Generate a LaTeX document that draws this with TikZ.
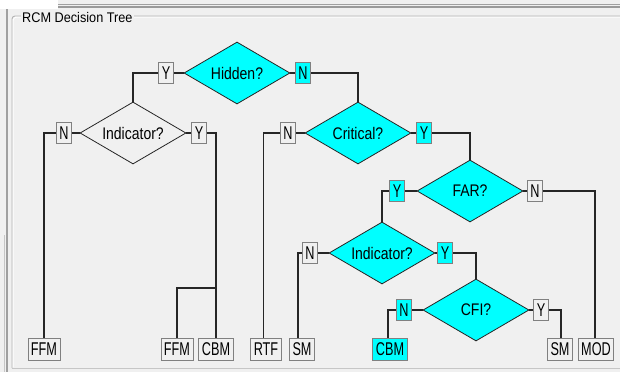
\documentclass[tikz,border=0pt]{standalone}
\usepackage{fontspec}
\usepackage{graphicx}
\setmainfont{Liberation Sans}
\usetikzlibrary{shapes.geometric}
\definecolor{bg}{HTML}{F0F0F0}
\definecolor{boxgray}{HTML}{808080}
\definecolor{framegray}{HTML}{A0A0A0}
\definecolor{aqua}{HTML}{00FFFF}
\newcommand{\talld}[1]{\scalebox{1}[1.2]{#1}}
\newcommand{\tallb}[1]{\scalebox{0.96}[1.4]{#1}}
\begin{document}
\begin{tikzpicture}[x=1pt,y=-1pt,
  dec/.style={diamond, draw=black!85, line width=0.8pt, fill=aqua, inner sep=0pt, aspect=1.7,
    minimum width=106pt, minimum height=62pt, font=\fontsize{14}{16}\selectfont},
  decw/.style={dec, fill=none},
  yn/.style={draw=boxgray, line width=0.9pt, fill=bg, inner xsep=3pt, inner ysep=0pt,
    minimum height=21pt, font=\fontsize{13.2}{15}\selectfont},
  ync/.style={yn, fill=aqua},
  leaf/.style={yn, minimum height=22pt},
  leafc/.style={leaf, fill=aqua},
  conn/.style={draw=black!85, line width=1.05pt}]
\useasboundingbox (0,0) rectangle (620,372);
\fill[bg] (0,0) rectangle (620,372);
% window frame
\fill[white] (0,0) rectangle (58,9);
\draw[framegray, line width=1pt] (58,4.5) -- (620,4.5);
\draw[boxgray!80, line width=1.5pt] (58,7) -- (620,7);
\draw[framegray, line width=2pt] (7,9) -- (7,372);
\draw[framegray!60, line width=1pt] (4.5,235) -- (4.5,372);
% group box
\draw[framegray!80, line width=0.9pt, rounded corners=3pt] (12,368) -- (12,16) -- (620,16);
\draw[white, line width=0.9pt, rounded corners=3pt] (13.2,367) -- (13.2,17.2) -- (620,17.2);
\draw[framegray!60, line width=0.9pt] (12,368) -- (620,368);
\node[anchor=west, fill=bg, inner xsep=1pt, inner ysep=1pt, font=\fontsize{12.7}{15}\selectfont] (title) at (21,18) {\scalebox{1}[1.1]{RCM Decision Tree}};
% decisions
\node[dec]  (hid)  at (237,73)  {\talld{Hidden?}};
\node[decw] (ind1) at (133,133) {\talld{Indicator?}};
\node[dec]  (crit) at (358,133) {\talld{Critical?}};
\node[dec]  (far)  at (470,191) {\talld{FAR?}};
\node[dec]  (ind2) at (382,253) {\talld{Indicator?}};
\node[dec]  (cfi)  at (476,310) {\talld{CFI?}};
% Y/N boxes
\node[yn]  (yH)  at (166,73)  {\tallb{Y}};
\node[ync] (nH)  at (303,73)  {\tallb{N}};
\node[yn]  (nI1) at (64,133)  {\tallb{N}};
\node[yn]  (yI1) at (199,133) {\tallb{Y}};
\node[yn]  (nC)  at (288,133) {\tallb{N}};
\node[ync] (yC)  at (424,133) {\tallb{Y}};
\node[ync] (yF)  at (397,191) {\tallb{Y}};
\node[yn]  (nF)  at (535,191) {\tallb{N}};
\node[yn]  (nI2) at (310,253) {\tallb{N}};
\node[ync] (yI2) at (445,253) {\tallb{Y}};
\node[ync] (nCF) at (404,310) {\tallb{N}};
\node[yn]  (yCF) at (541,310) {\tallb{Y}};
% leaves
\node[leaf]  (ffm1) at (44,349)  {\tallb{FFM}};
\node[leaf]  (ffm2) at (177,349) {\tallb{FFM}};
\node[leaf]  (cbm1) at (216,349) {\tallb{CBM}};
\node[leaf]  (rtf)  at (266,349) {\tallb{RTF}};
\node[leaf]  (sm1)  at (302,349) {\tallb{SM}};
\node[leafc] (cbm2) at (390,349) {\tallb{CBM}};
\node[leaf]  (sm2)  at (560,349) {\tallb{SM}};
\node[leaf]  (mod)  at (596,349) {\tallb{MOD}};
\coordinate (j1) at (216,288);
% connectors
\begin{scope}[conn]
\draw (hid.west) -- (yH.east);
\draw (hid.east) -- (nH.west);
\draw (yH.west) -| (ind1.north);
\draw (nH.east) -| (crit.north);
\draw (ind1.west) -- (nI1.east);
\draw (ind1.east) -- (yI1.west);
\draw (nI1.west) -| (ffm1.north);
\draw (yI1.east) -| (cbm1.north);
\draw (j1) -| (ffm2.north);
\draw (crit.west) -- (nC.east);
\draw (crit.east) -- (yC.west);
\draw (nC.west) -| ([xshift=-2.5pt]rtf.north);
\draw (yC.east) -| (far.north);
\draw (far.west) -- (yF.east);
\draw (far.east) -- (nF.west);
\draw (yF.west) -| (ind2.north);
\draw (nF.east) -| ([xshift=-1pt]mod.north);
\draw (ind2.west) -- (nI2.east);
\draw (ind2.east) -- (yI2.west);
\draw (nI2.west) -| ([xshift=-4pt]sm1.north);
\draw (yI2.east) -| (cfi.north);
\draw (cfi.west) -- (nCF.east);
\draw (cfi.east) -- (yCF.west);
\draw (nCF.west) -| ([xshift=-2pt]cbm2.north);
\draw (yCF.east) -| ([xshift=1pt]sm2.north);
\end{scope}
\end{tikzpicture}
\end{document}
